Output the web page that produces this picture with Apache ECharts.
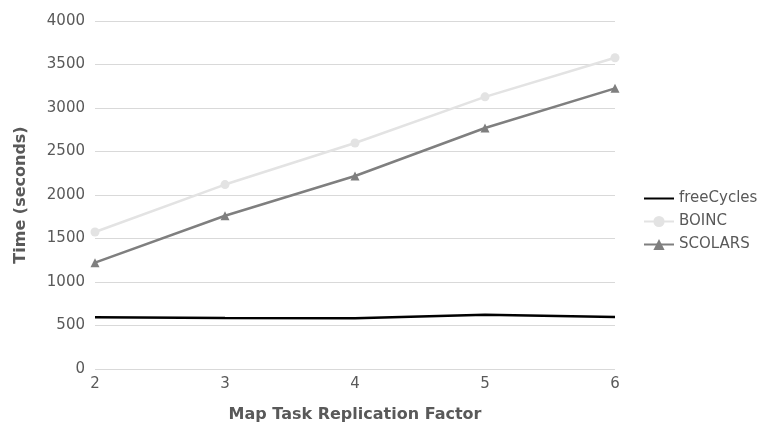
<!DOCTYPE html>
<html>
<head>
<meta charset="utf-8">
<script src="https://cdn.jsdelivr.net/npm/echarts@6/dist/echarts.min.js"></script>
<style>
  html, body { margin: 0; padding: 0; background: #fff; }
  #chart { width: 772px; height: 424px; }
</style>
</head>
<body>
<div id="chart"></div>
<script>
// Replication factors on the x axis
const categories = ['2', '3', '4', '5', '6'];
// Completion time in seconds for each system
const freeCycles = [594, 586, 582, 624, 598];
const boinc = [1575, 2120, 2598, 3128, 3577];
const scolars = [1222, 1762, 2218, 2770, 3226];

const font = 'DejaVu Sans';
const textGrey = '#595959';
const chart = echarts.init(document.getElementById('chart'));

chart.setOption({
  animation: false,
  backgroundColor: '#ffffff',
  textStyle: { fontFamily: font },
  grid: { left: 95, right: 157, top: 21, bottom: 55, outerBoundsMode: 'none' },
  legend: {
    orient: 'vertical',
    left: 643,
    top: 191,
    padding: 0,
    itemGap: 8,
    itemWidth: 30,
    itemHeight: 14,
    textStyle: { fontFamily: font, fontSize: 15, color: textGrey },
    data: [
      { name: 'freeCycles', itemStyle: { color: 'rgba(0,0,0,0)', borderWidth: 0 } },
      'BOINC',
      'SCOLARS'
    ]
  },
  xAxis: {
    type: 'category',
    data: categories,
    boundaryGap: false,
    name: 'Map Task Replication Factor',
    nameLocation: 'middle',
    nameGap: 38,
    nameTextStyle: { fontFamily: font, fontSize: 16, fontWeight: 'bold', color: textGrey },
    axisLine: { show: false },
    axisTick: { show: false },
    axisLabel: { fontFamily: font, fontSize: 15, color: textGrey, margin: 8 },
    splitLine: { show: false }
  },
  yAxis: {
    type: 'value',
    min: 0,
    max: 4000,
    interval: 500,
    name: 'Time (seconds)',
    nameLocation: 'middle',
    nameGap: 66,
    nameTextStyle: { fontFamily: font, fontSize: 16, fontWeight: 'bold', color: textGrey },
    axisLine: { show: false },
    axisTick: { show: false },
    axisLabel: {
      fontFamily: font, fontSize: 15, color: textGrey, margin: 10,
      formatter: (v) => String(v)
    },
    splitLine: { lineStyle: { color: '#d9d9d9', width: 1 } }
  },
  series: [
    {
      name: 'freeCycles',
      type: 'line',
      data: freeCycles,
      symbol: 'none',
      lineStyle: { color: '#000000', width: 2.5 },
      itemStyle: { color: '#000000' }
    },
    {
      name: 'BOINC',
      type: 'line',
      data: boinc,
      symbol: 'circle',
      symbolSize: 9,
      lineStyle: { color: '#e3e3e3', width: 2.5 },
      itemStyle: { color: '#e3e3e3' }
    },
    {
      name: 'SCOLARS',
      type: 'line',
      data: scolars,
      symbol: 'triangle',
      symbolSize: 9,
      lineStyle: { color: '#7f7f7f', width: 2.5 },
      itemStyle: { color: '#7f7f7f' }
    }
  ]
});
</script>
</body>
</html>
